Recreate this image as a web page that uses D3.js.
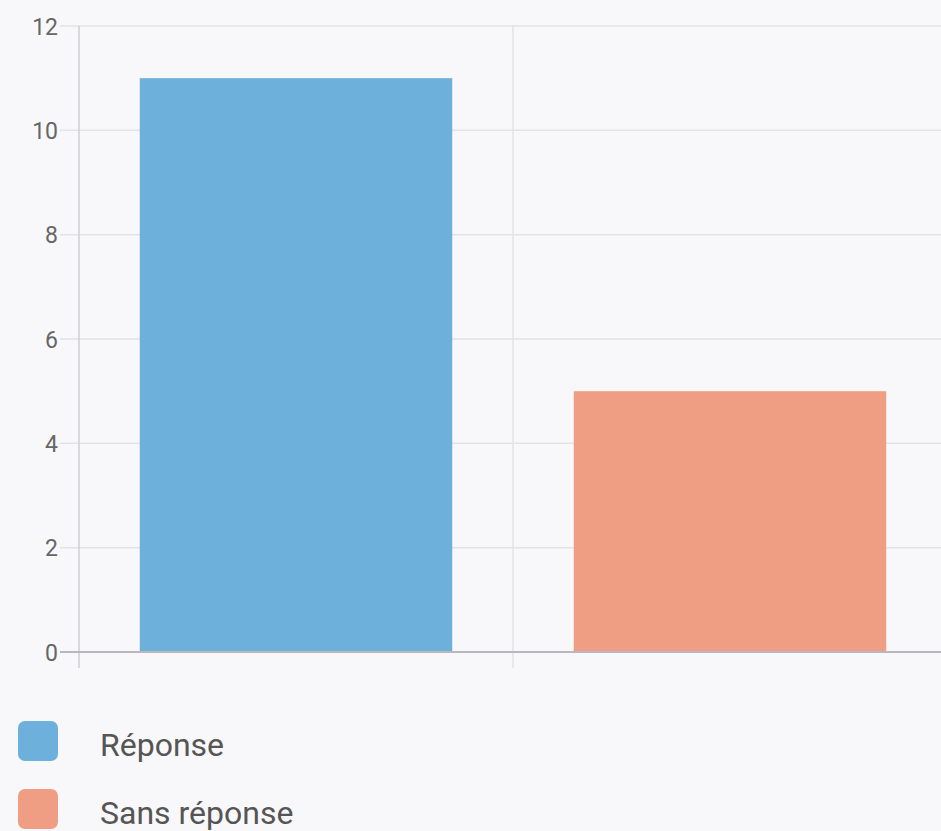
<!DOCTYPE html>
<html><head><meta charset="utf-8">
<script src="https://cdn.jsdelivr.net/npm/d3@7"></script>
<style>html,body{margin:0;padding:0;background:#f8f8fa;}svg{display:block;}</style>
</head><body>
<svg id="c" width="941" height="831"></svg>
<script>
const categories = ["Réponse", "Sans réponse"];
const values = [11, 5];
const colors = ["#6eb0dc", "#f09e83"];
const yTicks = [0, 2, 4, 6, 8, 10, 12];

(function () {
const svg = d3.select("#c");
const pLeft = 79, pRight = 947, pTop = 26, pBottom = 652;
const x = d3.scaleBand().domain(categories).range([pLeft, pRight]).paddingInner(0).paddingOuter(0);
const y = d3.scaleLinear().domain([0, 12]).range([pBottom, pTop]);
const font = "Roboto, 'Open Sans', sans-serif";

// horizontal gridlines
svg.append("g").selectAll("line").data(yTicks.filter(d => d !== 0)).join("line")
  .attr("x1", pLeft - 19).attr("x2", pRight)
  .attr("y1", d => y(d)).attr("y2", d => y(d))
  .attr("stroke", "#e3e3e6").attr("stroke-width", 1.5);
// vertical gridlines at category boundaries
const bounds = categories.map(c => x(c)).concat([x(categories[categories.length-1]) + x.bandwidth()]);
svg.append("g").selectAll("line").data(bounds).join("line")
  .attr("x1", d => d).attr("x2", d => d)
  .attr("y1", pTop).attr("y2", pBottom + 16)
  .attr("stroke", (d, i) => i === 0 ? "#cfcfd3" : "#e3e3e6").attr("stroke-width", 1.5);

// bars
const bw = x.bandwidth() * 0.72;
svg.append("g").selectAll("rect").data(categories).join("rect")
  .attr("x", d => x(d) + (x.bandwidth() - bw) / 2)
  .attr("width", bw)
  .attr("y", (d, i) => y(values[i]))
  .attr("height", (d, i) => y(0) - y(values[i]))
  .attr("fill", (d, i) => colors[i]);

// zero axis line
svg.append("line").attr("x1", pLeft - 19).attr("x2", pRight)
  .attr("y1", y(0)).attr("y2", y(0))
  .attr("stroke", "#b9b9bd").attr("stroke-width", 2);

// y tick labels
const yAxis = d3.axisLeft(y).tickValues(yTicks).tickSize(0).tickPadding(0);
const ga = svg.append("g").attr("transform", `translate(${pLeft - 21},0)`).call(yAxis);
ga.select(".domain").remove();
ga.selectAll("text").attr("font-family", font).attr("font-size", 23).attr("fill", "#666").attr("dy", "0.35em");

// legend
const lg = svg.append("g").selectAll("g").data(categories).join("g")
  .attr("transform", (d, i) => `translate(18,${721 + i * 68})`);
lg.append("rect").attr("width", 40).attr("height", 40).attr("rx", 7)
  .attr("fill", (d, i) => colors[i]);
lg.append("text").attr("x", 82).attr("y", 35).text(d => d)
  .attr("font-family", font).attr("font-size", 32).attr("fill", "#555");
})();
</script>
</body></html>
